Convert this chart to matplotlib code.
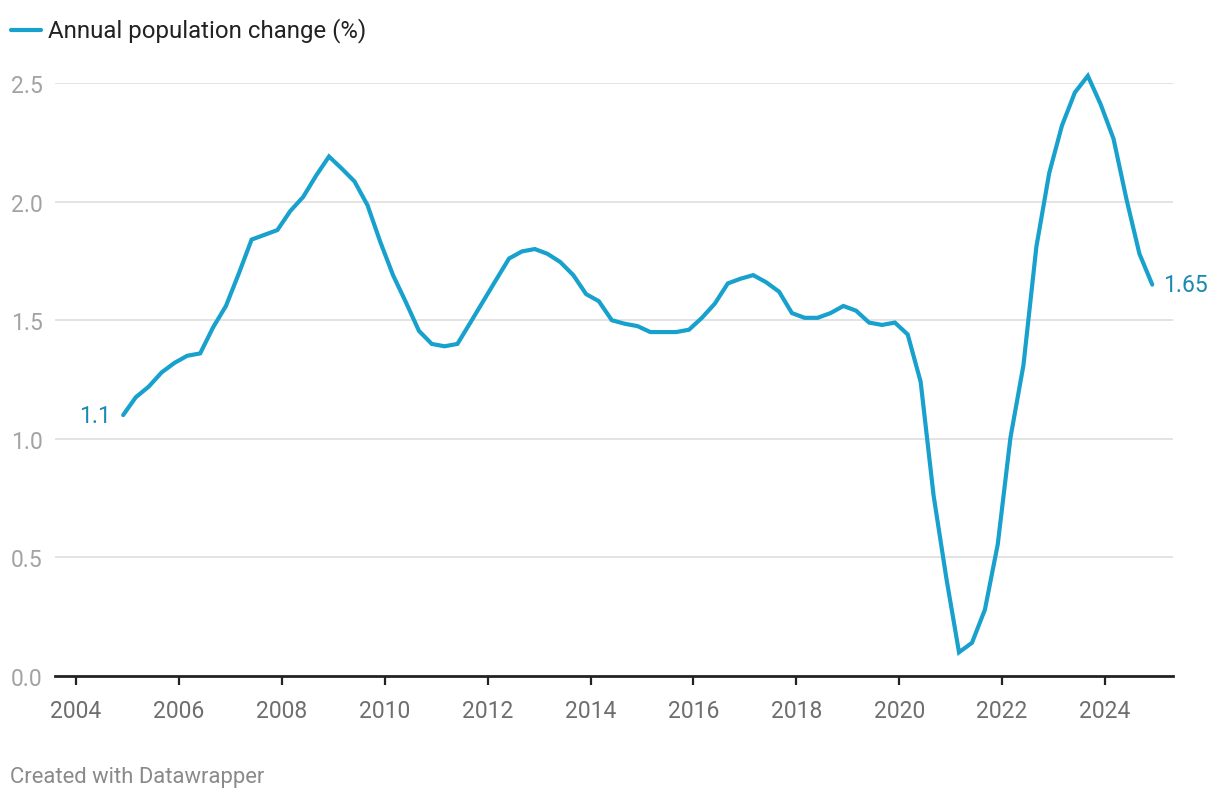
import matplotlib
matplotlib.use("Agg")
import matplotlib.pyplot as plt
import numpy as np
import pandas as pd

plt.rcParams['font.family'] = ['Roboto', 'DejaVu Sans']

# Quarterly annual population change (%), Dec 2004 .. Dec 2024
start_date = "2004-12-01"
values = [
    1.10, 1.175, 1.22, 1.28, 1.32, 1.35, 1.36, 1.47, 1.56, 1.695,
    1.84, 1.86, 1.88, 1.96, 2.02, 2.11, 2.19, 2.14, 2.085, 1.985,
    1.83, 1.69, 1.575, 1.455, 1.40, 1.39, 1.40, 1.49, 1.58, 1.67,
    1.76, 1.79, 1.80, 1.78, 1.745, 1.69, 1.61, 1.58, 1.50, 1.485,
    1.475, 1.45, 1.45, 1.45, 1.46, 1.51, 1.57, 1.655, 1.675, 1.69,
    1.66, 1.62, 1.53, 1.51, 1.51, 1.53, 1.56, 1.54, 1.49, 1.48,
    1.49, 1.44, 1.24, 0.76, 0.41, 0.10, 0.14, 0.28, 0.555, 1.005,
    1.31, 1.81, 2.12, 2.32, 2.46, 2.53, 2.41, 2.265, 2.01, 1.78,
    1.65,
]
series_label = "Annual population change (%)"
first_label = "1.1"
last_label = "1.65"
y_ticks = [0.0, 0.5, 1.0, 1.5, 2.0, 2.5]
x_ticks = list(range(2004, 2025, 2))
footer = "Created with Datawrapper"

dates = pd.date_range(start_date, periods=len(values), freq="3MS")
xdec = dates.year + (dates.dayofyear - 1) / 365.25

LINE = "#18a1cd"
LABEL_BLUE = "#1b89b0"

fig = plt.figure(figsize=(12.2, 8.04), dpi=100)
ax = fig.add_axes([55 / 1220, 1 - 677 / 804, (1173 - 55) / 1220, (677 - 84) / 804])

ax.plot(xdec, values, color=LINE, lw=3.0, solid_joinstyle="miter",
        solid_capstyle="round", clip_on=False, zorder=3)

ax.set_xlim(2004 - 21 / 51.5, 2024 + 68 / 51.5)
ax.set_ylim(0, 2.5)

for v in y_ticks[1:]:
    ax.axhline(v, color="#e3e3e3", lw=1.4, zorder=1)

ax.set_yticks(y_ticks)
ax.set_yticklabels([f"{v:.1f}" for v in y_ticks])
ax.tick_params(axis="y", length=0, pad=9, labelsize=16.5, labelcolor="#a3a3a3")
ax.set_xticks(x_ticks)
ax.set_xticklabels([str(t) for t in x_ticks])
ax.tick_params(axis="x", length=6.5, width=1.6, color="#222222", pad=10,
               labelsize=16.5, labelcolor="#6e6e6e", direction="out")

for s in ["top", "right", "left"]:
    ax.spines[s].set_visible(False)
ax.spines["bottom"].set_color("#222222")
ax.spines["bottom"].set_linewidth(2.0)
ax.spines["bottom"].set_zorder(4)

ax.annotate(first_label, xy=(xdec[0], values[0]), xytext=(-9, 0),
            textcoords="offset points", ha="right", va="center",
            fontsize=16.5, color=LABEL_BLUE)
ax.annotate(last_label, xy=(xdec[-1], values[-1]), xytext=(8, 0),
            textcoords="offset points", ha="left", va="center",
            fontsize=16.5, color=LABEL_BLUE)

# legend
fig.add_artist(plt.Line2D([11 / 1220, 41 / 1220], [1 - 31 / 804] * 2,
                          color=LINE, lw=3.0, solid_capstyle="round"))
fig.text(48 / 1220, 1 - 31 / 804, series_label, ha="left", va="center",
         fontsize=17.3, color="#222222")

fig.text(10 / 1220, 1 - 778 / 804, footer, ha="left", va="center",
         fontsize=15.8, color="#8a8a8a")

fig.savefig("out.png", dpi=100)
